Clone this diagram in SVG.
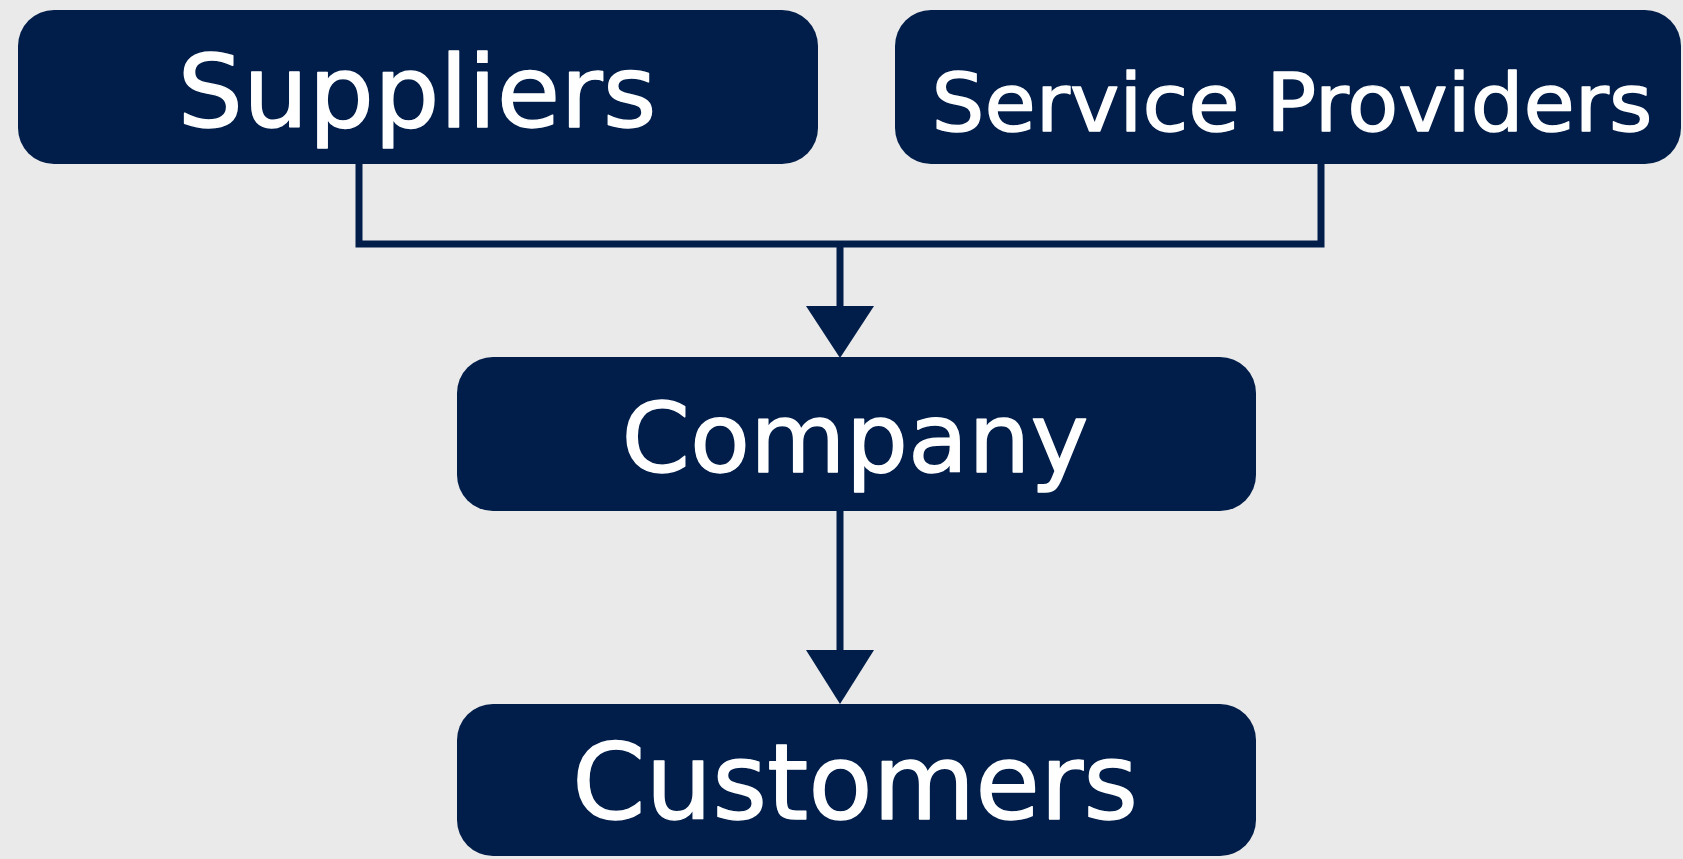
<svg xmlns="http://www.w3.org/2000/svg" width="1683" height="859" viewBox="0 0 1683 859">
<defs>
<style>
.box{fill:#011E4A;}
.lbl{fill:#FFFFFF;stroke:#FFFFFF;stroke-width:1.4;stroke-linejoin:round;font-family:"DejaVu Sans","Liberation Sans",sans-serif;text-anchor:middle;}
.conn{fill:none;stroke:#011E4A;stroke-width:7;stroke-linejoin:miter;}
.head{fill:#011E4A;}
</style>
</defs>
<rect x="0" y="0" width="1683" height="859" fill="#EAEAEA"/>
<g id="connectors">
<path class="conn" d="M359,164 V244 H1321 V164"/>
<path class="conn" d="M840,244 V310"/>
<polygon class="head" points="806,306 874,306 840,358"/>
<path class="conn" d="M840,511 V654"/>
<polygon class="head" points="806,650 874,650 840,704"/>
</g>
<g id="suppliers">
<rect class="box" x="18" y="10" width="800" height="154" rx="36" ry="36"/>
<text class="lbl" x="417" y="127" font-size="100" textLength="479" lengthAdjust="spacingAndGlyphs">Suppliers</text>
</g>
<g id="service-providers">
<rect class="box" x="895" y="10" width="786" height="154" rx="36" ry="36"/>
<text class="lbl" x="1292" y="131" font-size="80" textLength="721" lengthAdjust="spacingAndGlyphs">Service Providers</text>
</g>
<g id="company">
<rect class="box" x="457" y="357" width="799" height="154" rx="36" ry="36"/>
<text class="lbl" x="855" y="472" font-size="97" textLength="467" lengthAdjust="spacingAndGlyphs">Company</text>
</g>
<g id="customers">
<rect class="box" x="457" y="704" width="799" height="152" rx="36" ry="36"/>
<text class="lbl" x="855" y="819" font-size="106" textLength="566" lengthAdjust="spacingAndGlyphs">Customers</text>
</g>
</svg>
